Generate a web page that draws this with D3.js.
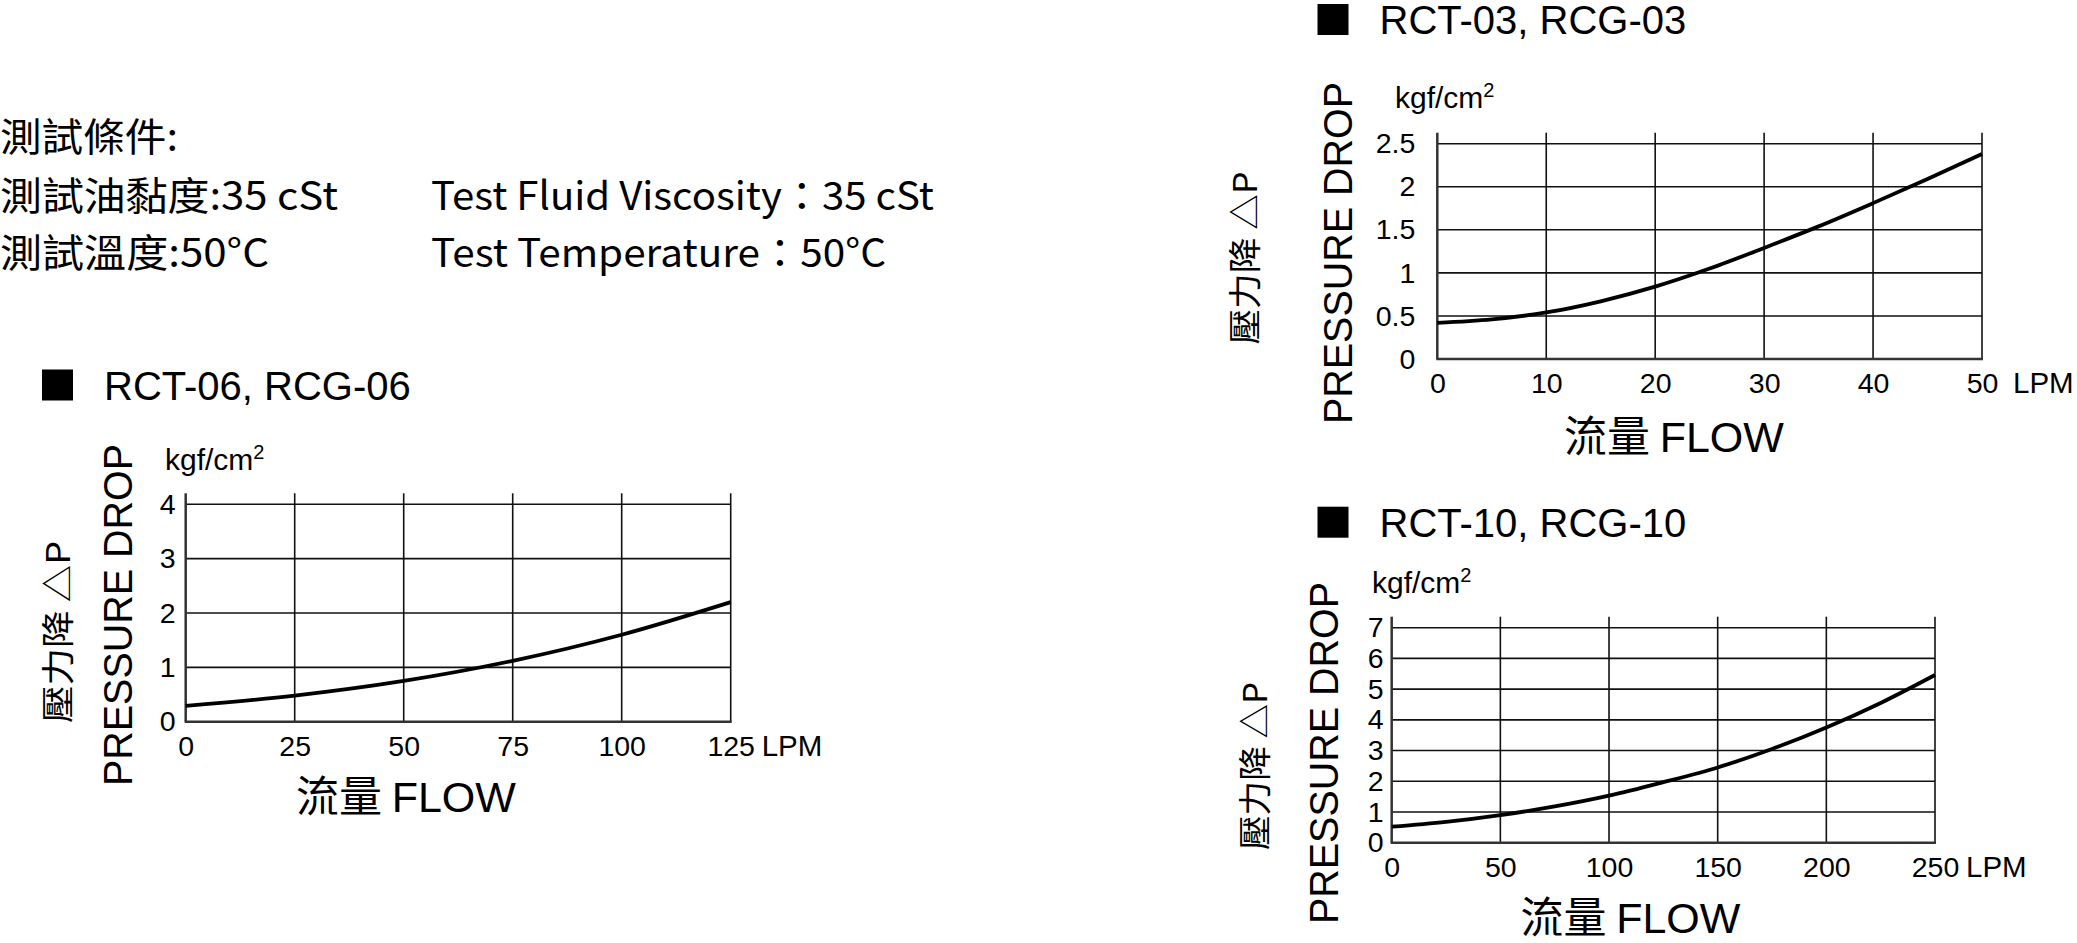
<!DOCTYPE html>
<html>
<head>
<meta charset="utf-8">
<script src="https://cdn.jsdelivr.net/npm/d3@7"></script>
<style>
  body { margin: 0; background: #fff; }
  svg { display: block; }
</style>
</head>
<body>
<div id="container"></div>
<script>
// chart data
const titles = ["RCT-06, RCG-06", "RCT-03, RCG-03", "RCT-10, RCG-10"];

const flow06 = [0, 25, 50, 75, 100, 125];
const drop06 = [0.29, 0.48, 0.75, 1.12, 1.6, 2.2];
const xTicks06 = [0, 25, 50, 75, 100, 125];
const yTicks06 = [0, 1, 2, 3, 4];

const flow03 = [0, 5, 10, 15, 20, 25, 30, 35, 40, 45, 50];
const drop03 = [0.42, 0.46, 0.54, 0.67, 0.84, 1.05, 1.29, 1.54, 1.81, 2.09, 2.38];
const xTicks03 = [0, 10, 20, 30, 40, 50];
const yTicks03 = [0, 0.5, 1, 1.5, 2, 2.5];

const flow10 = [0, 25, 50, 75, 100, 125, 150, 175, 200, 225, 250];
const drop10 = [0.52, 0.68, 0.9, 1.18, 1.53, 1.97, 2.45, 3.05, 3.75, 4.55, 5.46];
const xTicks10 = [0, 50, 100, 150, 200, 250];
const yTicks10 = [0, 1, 2, 3, 4, 5, 6, 7];

const headerLeft = ["測試條件:", "測試油黏度:35 cSt", "測試溫度:50°C"];
const headerRight = ["Test Fluid Viscosity：35 cSt", "Test Temperature：50°C"];

const latin = "'Liberation Sans', Arial, Helvetica, sans-serif";
const cjk = "'Noto Sans CJK TC', 'Noto Sans CJK JP', sans-serif";

const svg = d3.select("#container").append("svg")
    .attr("width", 2077)
    .attr("height", 943);

// header text
const hl = [[151, 178], [210, 338], [267, 269]];
headerLeft.forEach((t, i) => {
    svg.append("text")
        .attr("x", 0).attr("y", hl[i][0])
        .attr("font-family", cjk).attr("font-size", 39)
        .attr("textLength", hl[i][1]).attr("lengthAdjust", "spacingAndGlyphs")
        .text(t);
});
const hr = [[210, 503], [267, 455]];
headerRight.forEach((t, i) => {
    svg.append("text")
        .attr("x", 431).attr("y", hr[i][0])
        .attr("font-family", cjk).attr("font-size", 39)
        .attr("textLength", hr[i][1]).attr("lengthAdjust", "spacingAndGlyphs")
        .text(t);
});

function drawChart(cfg) {
    const x = d3.scaleLinear().domain([0, d3.max(cfg.xTicks)]).range([cfg.left, cfg.right]);
    const y = d3.scaleLinear().domain([0, d3.max(cfg.yTicks)]).range([cfg.bottom, cfg.top]);
    const g = svg.append("g");

    // title with black square
    g.append("rect")
        .attr("x", cfg.sqX).attr("y", cfg.titleY - 30)
        .attr("width", 31).attr("height", 31)
        .attr("fill", "#000");
    g.append("text")
        .attr("x", cfg.sqX + 62).attr("y", cfg.titleY)
        .attr("font-family", latin).attr("font-size", 40)
        .text(cfg.title);

    // unit
    const unit = g.append("text")
        .attr("x", cfg.unitX).attr("y", cfg.unitY)
        .attr("font-family", latin).attr("font-size", 30)
        .text("kgf/cm");
    unit.append("tspan").attr("dy", -11).attr("font-size", 20).text("2");

    // grid
    const ext = 11;
    g.append("g").selectAll("line")
        .data(cfg.yTicks.filter(d => d > 0))
        .join("line")
        .attr("x1", cfg.left).attr("x2", cfg.right)
        .attr("y1", d => y(d)).attr("y2", d => y(d))
        .attr("stroke", "#111").attr("stroke-width", 1.6);
    g.append("g").selectAll("line")
        .data(cfg.xTicks)
        .join("line")
        .attr("x1", d => x(d)).attr("x2", d => x(d))
        .attr("y1", cfg.bottom).attr("y2", cfg.top - ext)
        .attr("stroke", d => d === 0 ? "#333" : "#111")
        .attr("stroke-width", d => d === 0 ? 2.5 : 1.6);
    g.append("line")
        .attr("x1", cfg.left - 1).attr("x2", cfg.right + 1)
        .attr("y1", cfg.bottom).attr("y2", cfg.bottom)
        .attr("stroke", "#333").attr("stroke-width", 2.5);

    // axes labels
    const xAxis = g.append("g")
        .attr("transform", `translate(0,${cfg.bottom})`)
        .call(d3.axisBottom(x).tickValues(cfg.xTicks).tickSize(0).tickPadding(14));
    const yAxis = g.append("g")
        .attr("transform", `translate(${cfg.left},0)`)
        .call(d3.axisLeft(y).tickValues(cfg.yTicks).tickSize(0).tickPadding(cfg.yPad)
            .tickFormat(d3.format("~g")));
    [xAxis, yAxis].forEach(a => {
        a.attr("font-family", latin).attr("font-size", 28.5);
        a.select(".domain").remove();
    });

    g.append("text")
        .attr("x", cfg.right + 31).attr("y", cfg.bottom + 34)
        .attr("font-family", latin).attr("font-size", 29.5)
        .text("LPM");

    // axis titles
    const flowT = g.append("text")
        .attr("x", cfg.flowX).attr("y", cfg.flowY)
        .attr("font-size", 43);
    flowT.append("tspan").attr("font-family", cjk).text("流量 ");
    flowT.append("tspan").attr("font-family", latin).text("FLOW");

    g.append("text")
        .attr("transform", `translate(${cfg.pdX},${cfg.pdY}) rotate(-90)`)
        .attr("text-anchor", "middle")
        .attr("font-family", latin).attr("font-size", 40)
        .attr("textLength", 342).attr("lengthAdjust", "spacingAndGlyphs")
        .text("PRESSURE DROP");

    g.append("text")
        .attr("transform", `translate(${cfg.cnX},${cfg.cnY}) rotate(-90)`)
        .attr("text-anchor", "middle")
        .attr("font-family", cjk).attr("font-size", 33)
        .attr("textLength", cfg.cnLen).attr("lengthAdjust", "spacingAndGlyphs")
        .text("壓力降 △P");

    // curve
    const line = d3.line()
        .x(d => x(d[0]))
        .y(d => y(d[1]))
        .curve(d3.curveMonotoneX);
    g.append("path")
        .datum(d3.zip(cfg.flow, cfg.drop))
        .attr("d", line)
        .attr("fill", "none")
        .attr("stroke", "#000")
        .attr("stroke-width", 3.8);
}

drawChart({
    title: titles[0], flow: flow06, drop: drop06, xTicks: xTicks06, yTicks: yTicks06,
    left: 185.7, right: 730.7, top: 504.3, bottom: 721.7, yPad: 10,
    sqX: 42, titleY: 399.5, unitX: 165, unitY: 470,
    flowX: 296, flowY: 812, pdX: 131.5, pdY: 615, cnX: 70, cnY: 632, cnLen: 182
});
drawChart({
    title: titles[1], flow: flow03, drop: drop03, xTicks: xTicks03, yTicks: yTicks03,
    left: 1437.3, right: 1982, top: 143.7, bottom: 359, yPad: 22,
    sqX: 1317.5, titleY: 34, unitX: 1395, unitY: 108,
    flowX: 1564, flowY: 452, pdX: 1351.5, pdY: 253, cnX: 1257, cnY: 258, cnLen: 173
});
drawChart({
    title: titles[2], flow: flow10, drop: drop10, xTicks: xTicks10, yTicks: yTicks10,
    left: 1391.7, right: 1935, top: 627.7, bottom: 842.7, yPad: 8,
    sqX: 1317.5, titleY: 536.7, unitX: 1372, unitY: 593,
    flowX: 1520.5, flowY: 933, pdX: 1338.3, pdY: 753, cnX: 1267, cnY: 766, cnLen: 168
});
</script>
</body>
</html>
